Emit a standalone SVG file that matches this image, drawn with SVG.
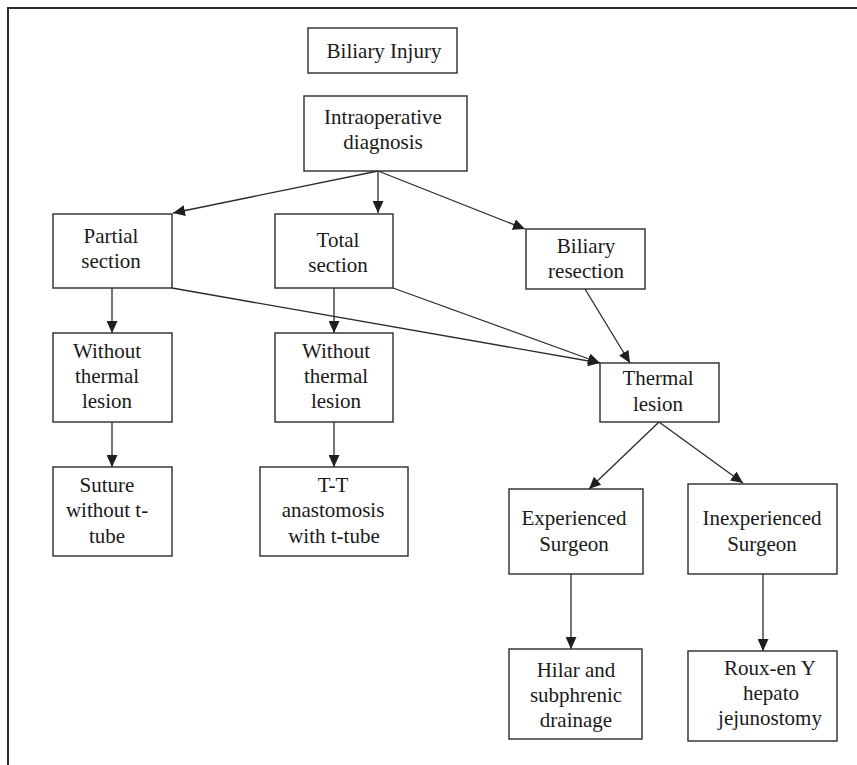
<svg xmlns="http://www.w3.org/2000/svg" width="857" height="765" viewBox="0 0 857 765">
<style>
.box{fill:#fff;stroke:#2b2b2b;stroke-width:1.4}
.t{font-family:"Liberation Serif","Times New Roman",serif;font-size:21px;fill:#1a1a1a;text-anchor:middle}
.c{stroke:#2b2b2b;stroke-width:1.3;fill:none;marker-end:url(#ah)}
.frame{stroke:#2b2b2b;stroke-width:2;fill:none}
</style>
<defs>
<marker id="ah" markerUnits="userSpaceOnUse" markerWidth="13" markerHeight="11" refX="12" refY="5.5" orient="auto">
<path d="M0,0 L12,5.5 L0,11 z" fill="#1f1f1f"/>
</marker>
</defs>
<rect width="857" height="765" fill="#fff"/>
<path class="frame" d="M8,765 L8,8 L857,8"/>
<g id="connectors">
<line class="c" x1="378" y1="171" x2="173" y2="213"/>
<line class="c" x1="378" y1="171" x2="378" y2="213"/>
<line class="c" x1="378" y1="171" x2="525" y2="229"/>
<line class="c" x1="112" y1="288" x2="112" y2="333"/>
<line class="c" x1="334" y1="288" x2="334" y2="333"/>
<line class="c" x1="172" y1="288" x2="600" y2="363"/>
<line class="c" x1="393" y1="288" x2="600" y2="363"/>
<line class="c" x1="585" y1="289" x2="630" y2="363"/>
<line class="c" x1="112" y1="422" x2="112" y2="467"/>
<line class="c" x1="334" y1="422" x2="334" y2="467"/>
<line class="c" x1="659" y1="422" x2="589" y2="489"/>
<line class="c" x1="659" y1="422" x2="743" y2="483"/>
<line class="c" x1="571" y1="574" x2="571" y2="649"/>
<line class="c" x1="763" y1="574" x2="763" y2="651"/>
</g>
<g id="biliary-injury">
<rect class="box" x="308" y="28" width="149" height="45"/>
<text class="t" x="384" y="58">Biliary Injury</text>
</g>
<g id="intraoperative">
<rect class="box" x="304" y="96" width="163" height="75"/>
<text class="t" x="383" y="124">Intraoperative</text>
<text class="t" x="383" y="149">diagnosis</text>
</g>
<g id="partial-section">
<rect class="box" x="53" y="214" width="119" height="74"/>
<text class="t" x="111" y="243">Partial</text>
<text class="t" x="111" y="268">section</text>
</g>
<g id="total-section">
<rect class="box" x="275" y="214" width="118" height="74"/>
<text class="t" x="338" y="247">Total</text>
<text class="t" x="338" y="272">section</text>
</g>
<g id="biliary-resection">
<rect class="box" x="526" y="229" width="119" height="60"/>
<text class="t" x="586" y="253">Biliary</text>
<text class="t" x="586" y="278">resection</text>
</g>
<g id="without-thermal-1">
<rect class="box" x="53" y="333" width="119" height="89"/>
<text class="t" x="107" y="358">Without</text>
<text class="t" x="107" y="383">thermal</text>
<text class="t" x="107" y="408">lesion</text>
</g>
<g id="without-thermal-2">
<rect class="box" x="275" y="333" width="118" height="89"/>
<text class="t" x="336" y="358">Without</text>
<text class="t" x="336" y="383">thermal</text>
<text class="t" x="336" y="408">lesion</text>
</g>
<g id="thermal-lesion">
<rect class="box" x="600" y="363" width="119" height="59"/>
<text class="t" x="658" y="385">Thermal</text>
<text class="t" x="658" y="411">lesion</text>
</g>
<g id="suture">
<rect class="box" x="53" y="467" width="119" height="89"/>
<text class="t" x="107" y="492">Suture</text>
<text class="t" x="107" y="517">without t-</text>
<text class="t" x="107" y="543">tube</text>
</g>
<g id="tt-anastomosis">
<rect class="box" x="260" y="467" width="148" height="89"/>
<text class="t" x="333" y="492">T-T</text>
<text class="t" x="333" y="517">anastomosis</text>
<text class="t" x="334" y="543">with t-tube</text>
</g>
<g id="experienced">
<rect class="box" x="509" y="489" width="134" height="85"/>
<text class="t" x="574" y="525">Experienced</text>
<text class="t" x="574" y="551">Surgeon</text>
</g>
<g id="inexperienced">
<rect class="box" x="688" y="484" width="149" height="90"/>
<text class="t" x="762" y="525">Inexperienced</text>
<text class="t" x="762" y="551">Surgeon</text>
</g>
<g id="hilar">
<rect class="box" x="509" y="649" width="133" height="90"/>
<text class="t" x="576" y="677">Hilar and</text>
<text class="t" x="576" y="702">subphrenic</text>
<text class="t" x="576" y="727">drainage</text>
</g>
<g id="roux">
<rect class="box" x="688" y="651" width="149" height="90"/>
<text class="t" x="770" y="675">Roux-en Y</text>
<text class="t" x="771" y="700">hepato</text>
<text class="t" x="770" y="725">jejunostomy</text>
</g>
</svg>
